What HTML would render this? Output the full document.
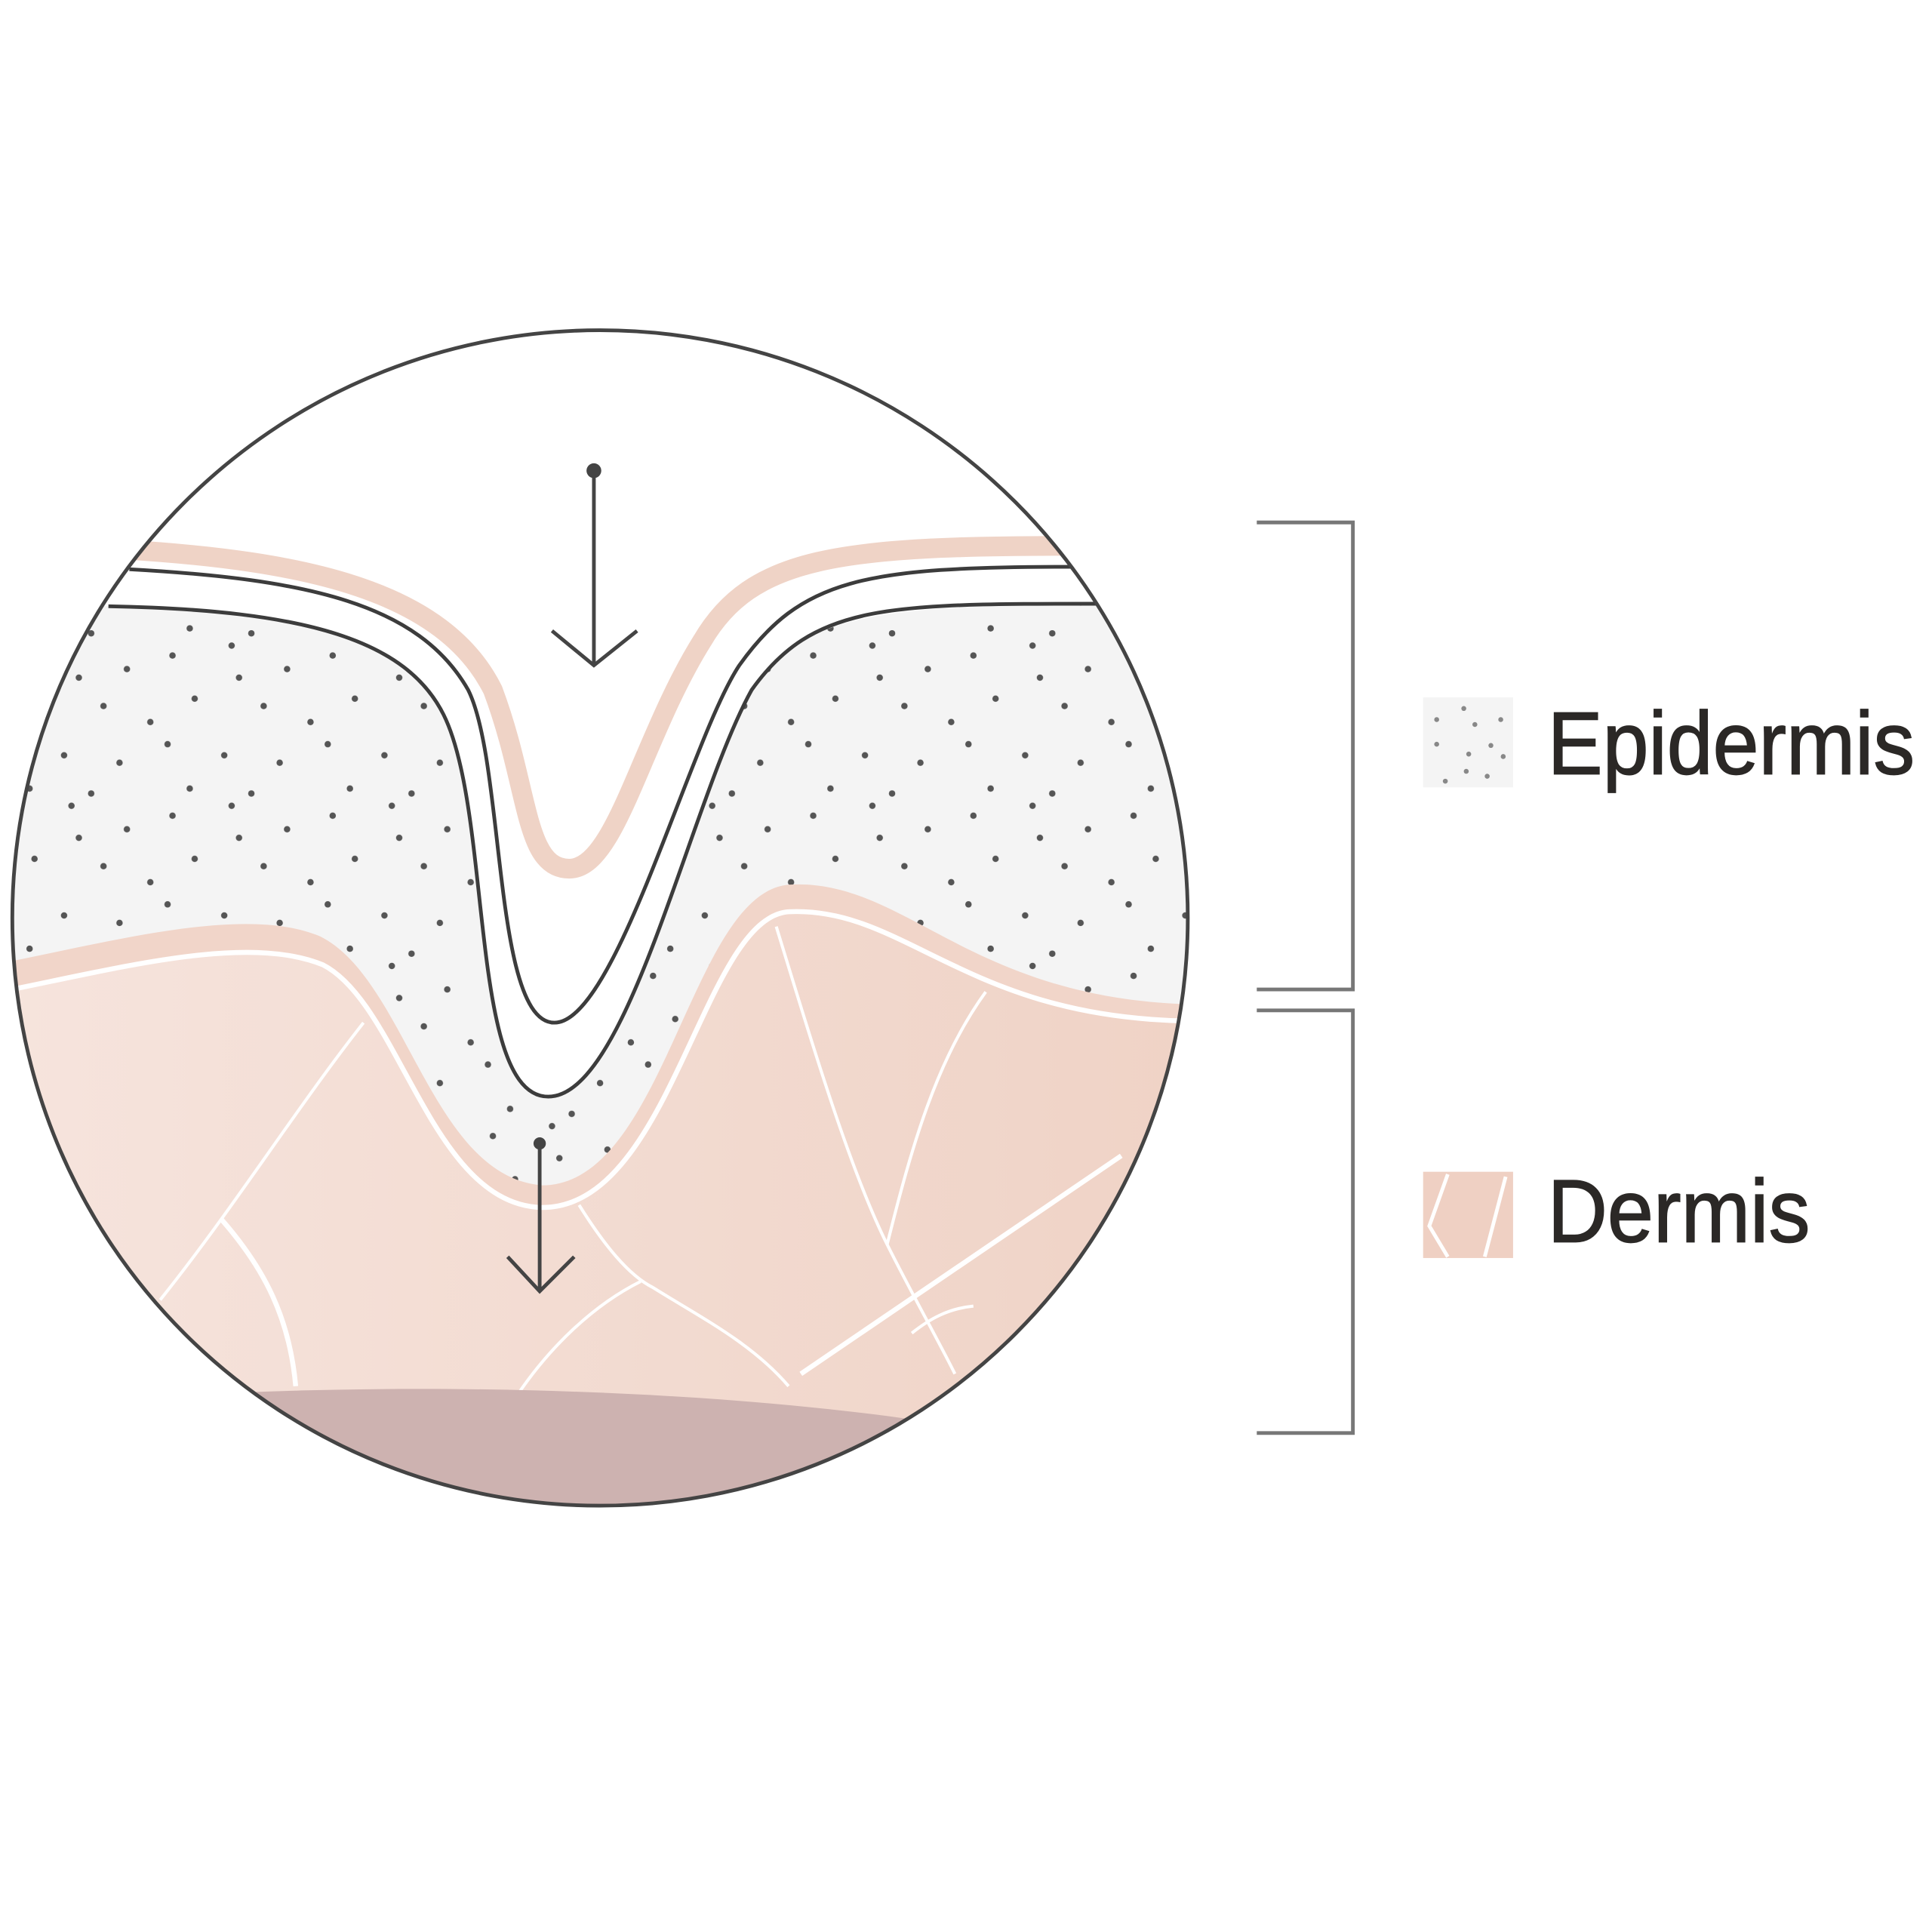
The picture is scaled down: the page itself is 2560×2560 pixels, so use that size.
<!DOCTYPE html>
<html><head><meta charset="utf-8"><style>html,body{margin:0;padding:0;background:#fff}svg{display:block}</style></head>
<body>
<svg width="2560" height="2560" viewBox="0 0 1568 1568" xmlns="http://www.w3.org/2000/svg">
<defs>
<clipPath id="c"><circle cx="487" cy="745" r="477"/></clipPath>
<linearGradient id="g" x1="0" x2="1" y1="0" y2="0">
<stop offset="0" stop-color="#f6e4dd"/><stop offset="1" stop-color="#efd2c5"/></linearGradient>
<pattern id="d" width="130" height="130" patternUnits="userSpaceOnUse">
<g fill="#555">
<circle cx="10" cy="12" r="2.6"/><circle cx="58" cy="4" r="2.6"/><circle cx="103" cy="23" r="2.6"/>
<circle cx="28" cy="47" r="2.6"/><circle cx="84" cy="53" r="2.6"/><circle cx="122" cy="66" r="2.6"/>
<circle cx="6" cy="84" r="2.6"/><circle cx="52" cy="93" r="2.6"/><circle cx="97" cy="99" r="2.6"/>
<circle cx="24" cy="120" r="2.6"/><circle cx="74" cy="124" r="2.6"/>
<circle cx="64" cy="30" r="2.6"/></g>
</pattern>
</defs>
<g clip-path="url(#c)">
<rect x="0" y="0" width="1000" height="1300" fill="#fff"/>
<path d="M0,492 L90,492 C250,495 330,520 360,580 C400,660 380,890 445,890 C510,890 560,650 610,560 C660,490 720,490 1000,490 L1000,1300 L0,1300 Z" fill="#f4f4f4"/>
<path d="M0,492 L90,492 C250,495 330,520 360,580 C400,660 380,890 445,890 C510,890 560,650 610,560 C660,490 720,490 1000,490 L1000,1300 L0,1300 Z" fill="url(#d)"/>
<path d="M0,782 C100,762 200,735 260,760 C330,795 350,955 440,962 C540,962 560,725 640,718 C740,712 790,822 1000,815 L1000,1300 L0,1300 Z" fill="#f1d5c9"/>
<path d="M0,805 C100,785 200,758 262,783 C325,815 350,978 440,980 C545,980 570,745 640,740 C740,735 790,838 1000,828 L1000,1300 L0,1300 Z" fill="url(#g)"/>
<path d="M0,805 C100,785 200,758 262,783 C325,815 350,978 440,980 C545,980 570,745 640,740 C740,735 790,838 1000,828" fill="none" stroke="#fff" stroke-width="4"/>
<g fill="none" stroke="#fff" stroke-width="2.5">
<path d="M295,830 C240,900 190,980 130,1055"/>
<path d="M180,990 C215,1030 235,1070 240,1125" stroke-width="4"/>
<path d="M630,752 C660,850 690,950 720,1010 C740,1050 760,1085 775,1115"/>
<path d="M800,805 C760,860 740,930 720,1010"/>
<path d="M910,938 C820,1000 730,1060 650,1115" stroke-width="4"/>
<path d="M470,978 C490,1010 510,1035 530,1045 C570,1070 610,1090 640,1125"/>
<path d="M520,1040 C480,1060 445,1095 420,1132"/>
<path d="M740,1082 C755,1070 770,1062 790,1060"/>
</g>
<path d="M200,1130 C400,1122 600,1132 740,1152 L760,1300 L180,1300 Z" fill="#cdb2b0"/>
<path d="M100,446 C250,455 360,480 400,560 C430,640 425,705 462,705 C500,705 520,600 570,520 C610,452 680,443 870,443" fill="none" stroke="#efd3c6" stroke-width="16"/>
<path d="M105,462 C250,470 340,490 380,560 C410,620 400,830 450,830 C500,830 560,600 600,540 C650,470 700,460 870,460" fill="none" stroke="#3c3c3c" stroke-width="3"/>
<path d="M88,492 C250,495 330,520 360,580 C400,660 380,890 445,890 C510,890 560,650 610,560 C660,490 720,490 890,490" fill="none" stroke="#3c3c3c" stroke-width="3"/>
</g>
<circle cx="487" cy="745" r="477" fill="none" stroke="#444" stroke-width="3"/>
<g stroke="#444" stroke-width="3" fill="none">
<line x1="482" y1="382" x2="482" y2="540"/><polyline points="448,512 482,540 517,512"/>
<line x1="438" y1="928" x2="438" y2="1048"/><polyline points="412,1020 438,1048 466,1020"/>
</g>
<circle cx="482" cy="382" r="6" fill="#444"/><circle cx="438" cy="928" r="5" fill="#444"/>
<g fill="none" stroke="#777" stroke-width="3">
<polyline points="1020,424 1098,424 1098,803 1020,803"/>
<polyline points="1020,820 1098,820 1098,1163 1020,1163"/>
</g>
<rect x="1155" y="566" width="73" height="73" fill="#f4f4f4"/>
<g fill="#888"><circle cx="1188" cy="575" r="2"/><circle cx="1166" cy="584" r="2"/><circle cx="1218" cy="584" r="2"/><circle cx="1197" cy="588" r="2"/><circle cx="1166" cy="604" r="2"/><circle cx="1210" cy="605" r="2"/><circle cx="1220" cy="614" r="2"/><circle cx="1192" cy="612" r="2"/><circle cx="1207" cy="630" r="2"/><circle cx="1190" cy="626" r="2"/><circle cx="1173" cy="634" r="2"/></g>
<rect x="1155" y="951" width="73" height="70" fill="#efd0c3"/>
<g stroke="#fff" stroke-width="3" fill="none"><polyline points="1175,953 1160,995 1175,1020"/><line x1="1222" y1="955" x2="1205" y2="1020"/></g>
<g font-family="Liberation Sans, sans-serif" font-size="72" fill="#2b2826" stroke="#2b2826" stroke-width="1">
<text x="1256" y="628" textLength="298" lengthAdjust="spacingAndGlyphs">Epidermis</text>
<text x="1256" y="1008" textLength="213" lengthAdjust="spacingAndGlyphs">Dermis</text>
</g>
</svg>
</body></html>
